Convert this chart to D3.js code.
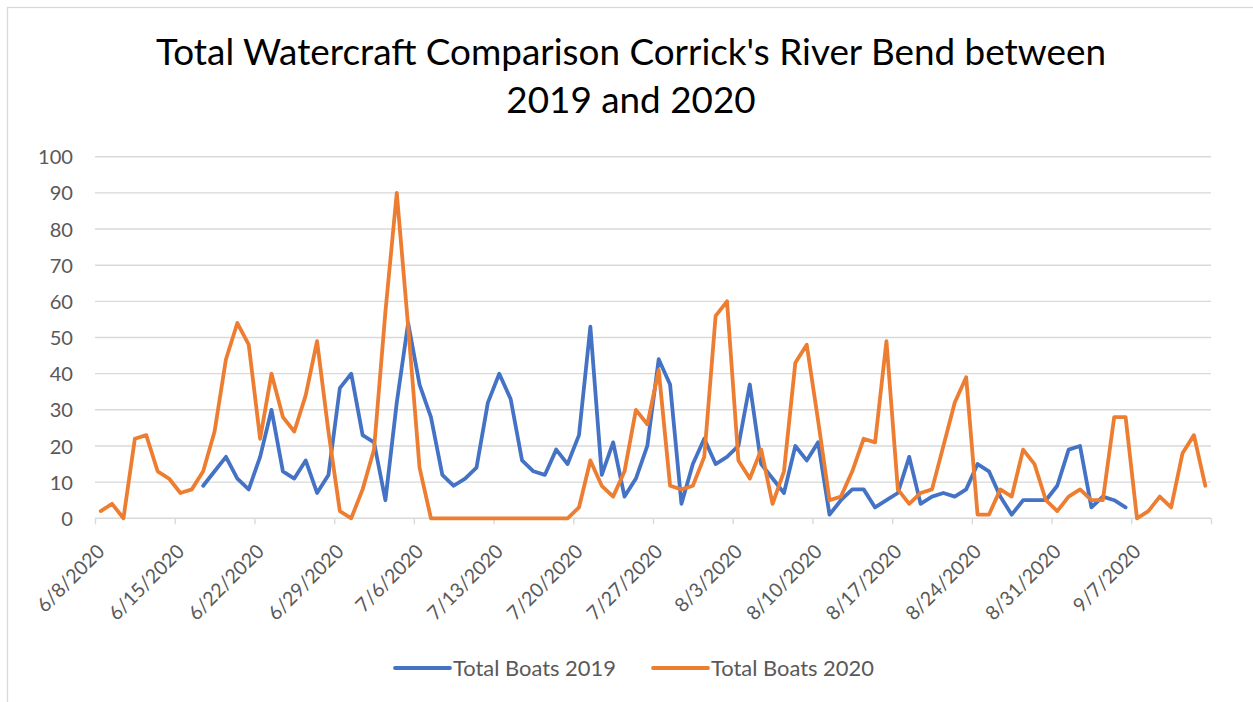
<!DOCTYPE html>
<html>
<head>
<meta charset="utf-8">
<script src="https://cdn.jsdelivr.net/npm/d3@7"></script>
<style>
  html, body { margin: 0; padding: 0; background: #ffffff; }
  svg { display: block; }
  text { font-family: Lato, "Open Sans", sans-serif; }
</style>
</head>
<body>
<svg id="chart" width="1253" height="702"></svg>
<script>
// Daily boat counts, 6/8 through 9/13 (one value per day)
const firstDay = new Date(2020, 5, 8);
const lastDay = new Date(2020, 8, 14); // axis end (exclusive)
const days = d3.timeDay.range(firstDay, lastDay);

const boats2019 = [
  null, null, null, null, null, null, null, null, null, 9,
  13, 17, 11, 8, 17, 30, 13, 11, 16, 7,
  12, 36, 40, 23, 21, 5, 32, 54, 37, 28,
  12, 9, 11, 14, 32, 40, 33, 16, 13, 12,
  19, 15, 23, 53, 12, 21, 6, 11, 20, 44,
  37, 4, 15, 22, 15, 17, 20, 37, 15, 11,
  7, 20, 16, 21, 1, 5, 8, 8, 3, 5,
  7, 17, 4, 6, 7, 6, 8, 15, 13, 6,
  1, 5, 5, 5, 9, 19, 20, 3, 6, 5,
  3, null, null, null, null, null, null, null
];

const boats2020 = [
  2, 4, 0, 22, 23, 13, 11, 7, 8, 13,
  24, 44, 54, 48, 22, 40, 28, 24, 34, 49,
  24, 2, 0, 8, 19, 57, 90, 53, 14, 0,
  0, 0, 0, 0, 0, 0, 0, 0, 0, 0,
  0, 0, 3, 16, 9, 6, 13, 30, 26, 41,
  9, 8, 9, 17, 56, 60, 16, 11, 19, 4,
  13, 43, 48, 27, 5, 6, 13, 22, 21, 49,
  8, 4, 7, 8, 20, 32, 39, 1, 1, 8,
  6, 19, 15, 5, 2, 6, 8, 5, 5, 28,
  28, 0, 2, 6, 3, 18, 23, 9
];

const seriesNames = ["Total Boats 2019", "Total Boats 2020"];
const seriesColors = ["#4472C4", "#ED7D31"];

const tickLabels = ["6/8/2020", "6/15/2020", "6/22/2020", "6/29/2020", "7/6/2020",
  "7/13/2020", "7/20/2020", "7/27/2020", "8/3/2020", "8/10/2020", "8/17/2020",
  "8/24/2020", "8/31/2020", "9/7/2020"];
const yTicks = [0, 10, 20, 30, 40, 50, 60, 70, 80, 90, 100];

const titleLines = ["Total Watercraft Comparison Corrick's River Bend between", "2019 and 2020"];

const svg = d3.select("#chart");
const textColor = "#595959";
const gridColor = "#d9d9d9";

// Plot frame
const plot = { left: 95, right: 1211, top: 156.7, bottom: 518.3 };

// outer chart border
svg.append("rect")
  .attr("x", 7.5).attr("y", 7.5)
  .attr("width", 1300).attr("height", 800)
  .attr("fill", "#fff").attr("stroke", gridColor).attr("stroke-width", 1.3);

const x = d3.scaleTime().domain([firstDay, lastDay]).range([plot.left, plot.right]);
const y = d3.scaleLinear().domain([0, 100]).range([plot.bottom, plot.top]);

// size a font so a string spans a given width
function fitSize(str, width, base) {
  const t = svg.append("text").attr("font-size", base).text(str);
  const w = t.node().getComputedTextLength();
  t.remove();
  return base * width / w;
}

// Title
const titleSize = fitSize(titleLines[0], 950, 32);
svg.append("g").selectAll("text").data(titleLines).join("text")
  .attr("x", 631)
  .attr("y", (d, i) => 65 + i * 48)
  .attr("text-anchor", "middle")
  .attr("font-size", titleSize)
  .attr("fill", "#000")
  .text(d => d);

// Horizontal gridlines
svg.append("g").selectAll("line").data(yTicks.filter(v => v > 0)).join("line")
  .attr("x1", plot.left).attr("x2", plot.right)
  .attr("y1", d => y(d)).attr("y2", d => y(d))
  .attr("stroke", gridColor).attr("stroke-width", 1.4);

// Y axis labels
const axisSize = fitSize("100", 35, 20);
const yAxis = d3.axisLeft(y).tickValues(yTicks).tickSize(0).tickPadding(0);
const yG = svg.append("g").attr("transform", `translate(${73},0)`).call(yAxis);
yG.select(".domain").remove();
yG.selectAll("text")
  .attr("font-size", axisSize)
  .attr("font-family", "Lato, 'Open Sans', sans-serif")
  .attr("fill", textColor)
  .attr("dy", "0.35em");

// X axis with weekly (Monday) ticks
const tickDates = d3.timeMonday.range(firstDay, d3.timeDay.offset(lastDay, 1));
const tickSize = fitSize(tickLabels[0], 86, 20);
const xAxis = d3.axisBottom(x)
  .tickValues(tickDates)
  .tickSize(6)
  .tickFormat((d, i) => tickLabels[i] || "");
const xG = svg.append("g").attr("transform", `translate(0,${plot.bottom})`).call(xAxis);
xG.select(".domain")
  .attr("d", `M${plot.left},0H${plot.right}`)
  .attr("stroke", gridColor).attr("stroke-width", 1.4);
xG.selectAll(".tick line").attr("stroke", gridColor).attr("stroke-width", 1.4);
xG.selectAll(".tick text")
  .attr("font-size", tickSize)
  .attr("font-family", "Lato, 'Open Sans', sans-serif")
  .attr("fill", textColor)
  .attr("text-anchor", "end")
  .attr("dy", null)
  .attr("y", 0)
  .attr("dominant-baseline", "central")
  .attr("transform", "translate(5,29) rotate(-45)");

// Lines: each day plotted at the middle of its slot
const mid = d => d3.timeHour.offset(d, 12);
const series = [boats2019, boats2020];
series.forEach((vals, s) => {
  const line = d3.line()
    .defined(d => d.v !== null)
    .x(d => x(mid(d.day)))
    .y(d => y(d.v));
  svg.append("path")
    .datum(days.map((day, i) => ({ day, v: vals[i] })))
    .attr("fill", "none")
    .attr("stroke", seriesColors[s])
    .attr("stroke-width", 3.8)
    .attr("stroke-linejoin", "round")
    .attr("stroke-linecap", "round")
    .attr("d", line);
});

// Legend
const legendSize = fitSize(seriesNames[0], 163, 20);
const legendX = [395, 653];
const legend = svg.append("g").selectAll("g").data(seriesNames).join("g")
  .attr("transform", (d, i) => `translate(${legendX[i]},668)`);
legend.append("line")
  .attr("x1", 0).attr("x2", 55)
  .attr("stroke", (d, i) => seriesColors[i])
  .attr("stroke-width", 3.8)
  .attr("stroke-linecap", "round");
legend.append("text")
  .attr("x", 58)
  .attr("dy", "0.35em")
  .attr("font-size", legendSize)
  .attr("fill", textColor)
  .text(d => d);
</script>
</body>
</html>
